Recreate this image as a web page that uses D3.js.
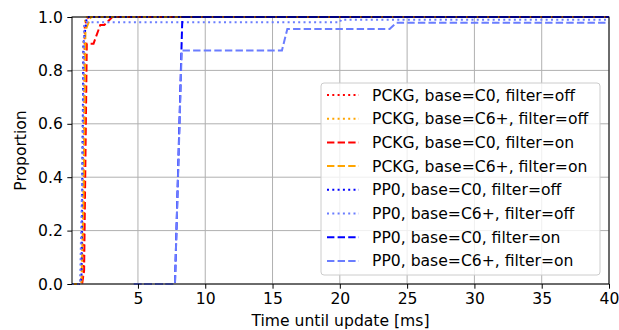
<!DOCTYPE html>
<html>
<head>
<meta charset="utf-8">
<script src="https://cdn.jsdelivr.net/npm/d3@7"></script>
<style>
  html, body { margin: 0; padding: 0; background: #fff; }
  text { font-family: "DejaVu Sans", sans-serif; }
</style>
</head>
<body>
<svg id="chart" width="619" height="330"></svg>
<script>
// ---- data ----
const seriesNames = [
  "PCKG, base=C0, filter=off",
  "PCKG, base=C6+, filter=off",
  "PCKG, base=C0, filter=on",
  "PCKG, base=C6+, filter=on",
  "PP0, base=C0, filter=off",
  "PP0, base=C6+, filter=off",
  "PP0, base=C0, filter=on",
  "PP0, base=C6+, filter=on"
];
const seriesColors = ["#ff0000", "#ffa500", "#ff0000", "#ffa500", "#0000ff", "#6a7dff", "#0000ff", "#6a7dff"];
const seriesStyles = ["dotted", "dotted", "dashed", "dashed", "dotted", "dotted", "dashed", "dashed"];

// time [ms]
const pckgC0OffX  = [0.1, 0.8, 0.95, 1.05, 1.3, 40];
const pckgC0OffY  = [0, 0, 0.05, 0.97, 1.0, 1.0];
const pckgC6OffX  = [0.1, 0.7, 0.85, 0.95, 1.1, 40];
const pckgC6OffY  = [0, 0, 0.1, 0.9, 1.0, 1.0];
const pckgC0OnX   = [0.1, 0.85, 1.0, 1.2, 1.7, 2.2, 2.5, 3.1, 40];
const pckgC0OnY   = [0, 0, 0.05, 0.9, 0.9, 0.97, 0.97, 1.0, 1.0];
const pckgC6OnX   = [0.1, 0.8, 0.95, 1.1, 1.5, 40];
const pckgC6OnY   = [0, 0, 0.3, 0.95, 1.0, 1.0];
const pp0C0OffX   = [0.1, 0.6, 0.8, 0.95, 1.2, 40];
const pp0C0OffY   = [0, 0, 0.02, 0.9, 1.0, 1.0];
const pp0C6OffX   = [0.1, 0.7, 0.9, 1.0, 1.2, 20, 20.1, 40];
const pp0C6OffY   = [0, 0, 0.5, 0.97, 0.98, 0.98, 0.99, 0.99];
const pp0C0OnX    = [4.7, 7.75, 8.3, 40];
const pp0C0OnY    = [0, 0, 1.0, 1.0];
const pp0C6OnX    = [4.7, 7.75, 8.25, 15.7, 16.1, 23.7, 24.2, 40];
const pp0C6OnY    = [0, 0, 0.875, 0.875, 0.955, 0.955, 0.978, 0.978];

const seriesX = [pckgC0OffX, pckgC6OffX, pckgC0OnX, pckgC6OnX, pp0C0OffX, pp0C6OffX, pp0C0OnX, pp0C6OnX];
const seriesY = [pckgC0OffY, pckgC6OffY, pckgC0OnY, pckgC6OnY, pp0C0OffY, pp0C6OffY, pp0C0OnY, pp0C6OnY];

const xTicks = [5, 10, 15, 20, 25, 30, 35, 40];
const yTicks = [0.0, 0.2, 0.4, 0.6, 0.8, 1.0];
const xLabel = "Time until update [ms]";
const yLabel = "Proportion";

// ---- layout ----
const svg = d3.select("#chart");
const mLeft = 72, mRight = 609, mTop = 17, mBottom = 284;
const x = d3.scaleLinear().domain([0.1, 40]).range([mLeft, mRight]);
const y = d3.scaleLinear().domain([0, 1]).range([mBottom, mTop]);

// grid
const grid = svg.append("g");
grid.selectAll("line.vx").data(xTicks).enter().append("line")
  .attr("x1", d => x(d)).attr("x2", d => x(d)).attr("y1", mTop).attr("y2", mBottom)
  .attr("stroke", "#b0b0b0").attr("stroke-width", 1);
grid.selectAll("line.hy").data(yTicks).enter().append("line")
  .attr("x1", mLeft).attr("x2", mRight).attr("y1", d => y(d)).attr("y2", d => y(d))
  .attr("stroke", "#b0b0b0").attr("stroke-width", 1);

// series
const dashFor = s => s === "dotted" ? "2,3.3" : "7.4,3.2";
const line = d3.line().x(d => x(d[0])).y(d => y(d[1]));
const plot = svg.append("g");
seriesNames.forEach((name, i) => {
  const pts = seriesX[i].map((v, j) => [v, seriesY[i][j]]);
  plot.append("path").datum(pts)
    .attr("d", line)
    .attr("fill", "none")
    .attr("stroke", seriesColors[i])
    .attr("stroke-width", 2)
    .attr("stroke-dasharray", dashFor(seriesStyles[i]));
});

// axes
const fs = "15.6px";
const xAxis = svg.append("g").attr("transform", `translate(0,${mBottom})`)
  .call(d3.axisBottom(x).tickValues(xTicks).tickFormat(d3.format("d")).tickSizeOuter(0).tickSize(4.7).tickPadding(4.5));
const yAxis = svg.append("g").attr("transform", `translate(${mLeft},0)`)
  .call(d3.axisLeft(y).tickValues(yTicks).tickFormat(d3.format(".1f")).tickSizeOuter(0).tickSize(4.7).tickPadding(4.5));
[xAxis, yAxis].forEach(a => {
  a.select(".domain").remove();
  a.selectAll("text").attr("font-family", "DejaVu Sans").attr("font-size", fs).attr("fill", "#000");
  a.selectAll("line").attr("stroke", "#000").attr("stroke-width", 1);
});

// spines
svg.append("rect").attr("x", mLeft).attr("y", mTop).attr("width", mRight - mLeft).attr("height", mBottom - mTop)
  .attr("fill", "none").attr("stroke", "#000").attr("stroke-width", 1);

// labels
svg.append("text").attr("x", (mLeft + mRight) / 2).attr("y", 326)
  .attr("text-anchor", "middle").attr("font-size", fs).text(xLabel);
svg.append("text").attr("transform", `translate(26,${(mTop + mBottom) / 2}) rotate(-90)`)
  .attr("text-anchor", "middle").attr("font-size", fs).text(yLabel);

// legend
const lg = svg.append("g");
lg.append("rect").attr("x", 321).attr("y", 83).attr("width", 279).attr("height", 192)
  .attr("rx", 3).attr("fill", "#fff").attr("fill-opacity", 0.8)
  .attr("stroke", "#cccccc").attr("stroke-width", 1);
seriesNames.forEach((name, i) => {
  const yy = 95 + i * 23.7;
  lg.append("line").attr("x1", 327).attr("x2", 359).attr("y1", yy).attr("y2", yy)
    .attr("stroke", seriesColors[i]).attr("stroke-width", 2)
    .attr("stroke-dasharray", dashFor(seriesStyles[i]));
  lg.append("text").attr("x", 372).attr("y", yy + 5.5).attr("font-size", fs).text(name);
});
</script>
</body>
</html>
